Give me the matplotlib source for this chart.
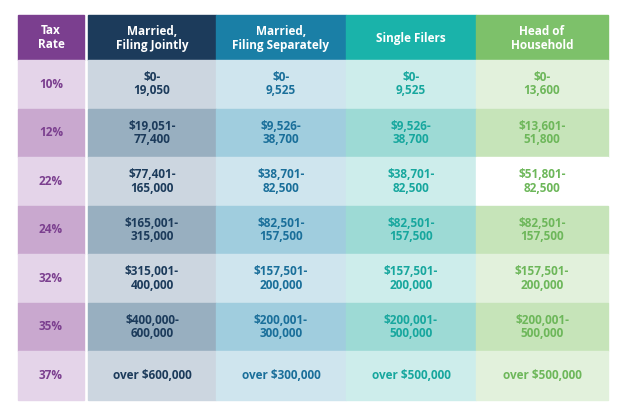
import matplotlib.pyplot as plt
from matplotlib.patches import Rectangle

rates = ["10%", "12%", "22%", "24%", "32%", "35%", "37%"]
headers = ["Married,\nFiling Jointly", "Married,\nFiling Separately", "Single Filers", "Head of\nHousehold"]
jointly = ["$0-\n19,050", "$19,051-\n77,400", "$77,401-\n165,000", "$165,001-\n315,000",
           "$315,001-\n400,000", "$400,000-\n600,000", "over $600,000"]
separately = ["$0-\n9,525", "$9,526-\n38,700", "$38,701-\n82,500", "$82,501-\n157,500",
              "$157,501-\n200,000", "$200,001-\n300,000", "over $300,000"]
single = ["$0-\n9,525", "$9,526-\n38,700", "$38,701-\n82,500", "$82,501-\n157,500",
          "$157,501-\n200,000", "$200,001-\n500,000", "over $500,000"]
household = ["$0-\n13,600", "$13,601-\n51,800", "$51,801-\n82,500", "$82,501-\n157,500",
             "$157,501-\n200,000", "$200,001-\n500,000", "over $500,000"]

cols = [jointly, separately, single, household]
head_col = ["#1C3B5B", "#1A7FA6", "#1AB3AA", "#7DC16A"]
text_col = ["#1C3B5B", "#1A6F9A", "#17A79E", "#6DB75A"]
light = ["#CCD6E0", "#CFE5EE", "#CDEDEB", "#E2F1DC"]
dark = ["#98AFC0", "#A0CDDE", "#9DDAD5", "#C6E4B9"]

W, H = 629, 419
fig = plt.figure(figsize=(W / 100, H / 100), dpi=100)
ax = fig.add_axes([0, 0, 1, 1])
ax.set_xlim(0, W)
ax.set_ylim(H, 0)
ax.axis("off")
plt.rcParams['font.family'] = ['Open Sans', 'DejaVu Sans']
fs = 8.5

x_edges = [88, 216, 346, 476, 608]
top, head_bot, row_h = 15, 60, 48.5
rx0, rx1 = 18, 84

# header
ax.add_patch(Rectangle((rx0, top), rx1 - rx0, head_bot - top, color="#7B3F8F"))
ax.text((rx0 + rx1) / 2, (top + head_bot) / 2, "Tax\nRate", color="white", ha="center",
        va="center", fontsize=fs, fontweight="bold", linespacing=1.05)
for j, h in enumerate(headers):
    ax.add_patch(Rectangle((x_edges[j], top), x_edges[j + 1] - x_edges[j], head_bot - top, color=head_col[j]))
    ax.text((x_edges[j] + x_edges[j + 1]) / 2, (top + head_bot) / 2 + 1, h, color="white", ha="center",
            va="center", fontsize=fs, fontweight="bold", linespacing=1.05)

for i, r in enumerate(rates):
    y0 = head_bot + i * row_h
    cy = y0 + row_h / 2
    odd = i % 2 == 1
    ax.add_patch(Rectangle((rx0, y0), rx1 - rx0, row_h, color="#C9A8CF" if odd else "#E4D4E9"))
    ax.text((rx0 + rx1) / 2, cy, r, color="#7B3F8F", ha="center", va="center", fontsize=fs, fontweight="bold")
    for j, c in enumerate(cols):
        fc = dark[j] if odd else light[j]
        if j == 3 and i == 2:
            fc = "white"
        ax.add_patch(Rectangle((x_edges[j], y0), x_edges[j + 1] - x_edges[j], row_h, color=fc))
        ax.text((x_edges[j] + x_edges[j + 1]) / 2, cy, c[i], color=text_col[j], ha="center",
                va="center", fontsize=fs, fontweight="bold", linespacing=1.05)

fig.savefig("out.png", dpi=100)
